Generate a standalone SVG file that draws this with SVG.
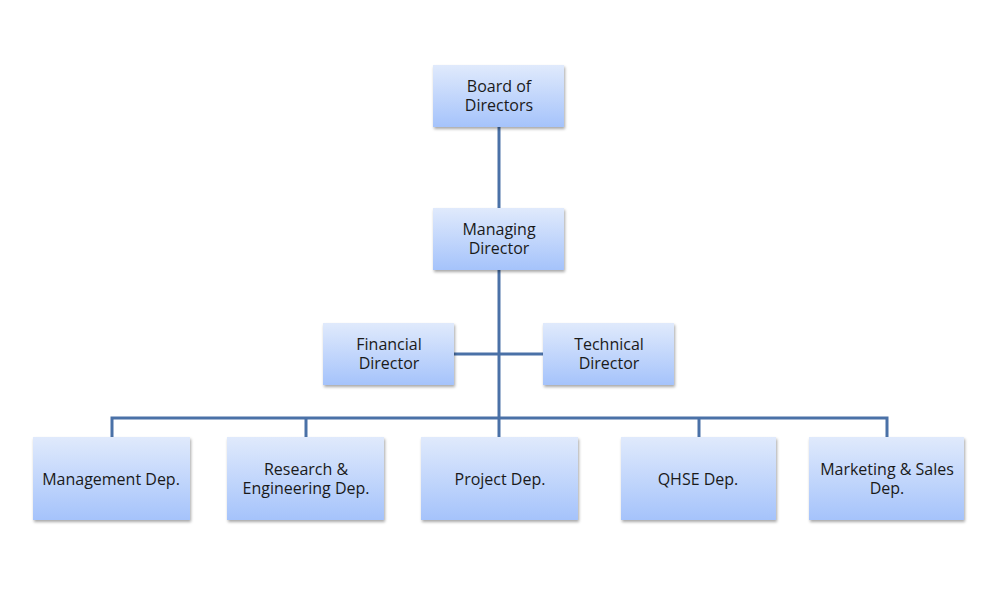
<svg xmlns="http://www.w3.org/2000/svg" width="1000" height="600" viewBox="0 0 1000 600">
  <defs>
    <linearGradient id="g" x1="0" y1="0" x2="0" y2="1">
      <stop offset="0" stop-color="#e0eafc"/>
      <stop offset="1" stop-color="#a5c3fb"/>
    </linearGradient>
    <filter id="sh" x="-10%" y="-10%" width="125%" height="130%">
      <feGaussianBlur in="SourceAlpha" stdDeviation="1.5"/>
      <feOffset dx="1" dy="2" result="b"/>
      <feComponentTransfer><feFuncA type="linear" slope="0.35"/></feComponentTransfer>
      <feMerge><feMergeNode/><feMergeNode in="SourceGraphic"/></feMerge>
    </filter>
    <style>
      .box { fill: url(#g); filter: url(#sh); }
      .t { font-family: "Open Sans", "Liberation Sans", sans-serif; font-size: 16px; fill: #1a1a1a; text-anchor: middle; }
      .c { stroke: #4a71a7; stroke-width: 3; fill: none; }
    </style>
  </defs>
  <rect width="1000" height="600" fill="#ffffff"/>
  <g id="connectors">
    <line class="c" x1="499" y1="127" x2="499" y2="208"/>
    <line class="c" x1="499" y1="270" x2="499" y2="437"/>
    <line class="c" x1="454" y1="354" x2="543" y2="354"/>
    <polyline class="c" points="112,437 112,418 887,418 887,437"/>
    <line class="c" x1="306" y1="418" x2="306" y2="437"/>
    <line class="c" x1="699" y1="418" x2="699" y2="437"/>
  </g>
  <g id="board">
    <rect class="box" x="433" y="65" width="131" height="62"/>
    <text class="t" x="499" y="92">Board of<tspan x="499" dy="18.5">Directors</tspan></text>
  </g>
  <g id="managing">
    <rect class="box" x="433" y="208" width="131" height="62"/>
    <text class="t" x="499" y="235">Managing<tspan x="499" dy="18.5">Director</tspan></text>
  </g>
  <g id="financial">
    <rect class="box" x="323" y="323" width="131" height="62"/>
    <text class="t" x="389" y="350">Financial<tspan x="389" dy="18.5">Director</tspan></text>
  </g>
  <g id="technical">
    <rect class="box" x="543" y="323" width="131" height="62"/>
    <text class="t" x="609" y="350">Technical<tspan x="609" dy="18.5">Director</tspan></text>
  </g>
  <g id="management">
    <rect class="box" x="33" y="437" width="157" height="83"/>
    <text class="t" x="111" y="485">Management Dep.</text>
  </g>
  <g id="research">
    <rect class="box" x="227" y="437" width="157" height="83"/>
    <text class="t" x="306" y="475">Research &amp;<tspan x="306" dy="18.5">Engineering Dep.</tspan></text>
  </g>
  <g id="project">
    <rect class="box" x="421" y="437" width="157" height="83"/>
    <text class="t" x="500" y="485">Project Dep.</text>
  </g>
  <g id="qhse">
    <rect class="box" x="621" y="437" width="155" height="83"/>
    <text class="t" x="698" y="485">QHSE Dep.</text>
  </g>
  <g id="marketing">
    <rect class="box" x="809" y="437" width="155" height="83"/>
    <text class="t" x="887" y="475">Marketing &amp; Sales<tspan x="887" dy="18.5">Dep.</tspan></text>
  </g>
</svg>
